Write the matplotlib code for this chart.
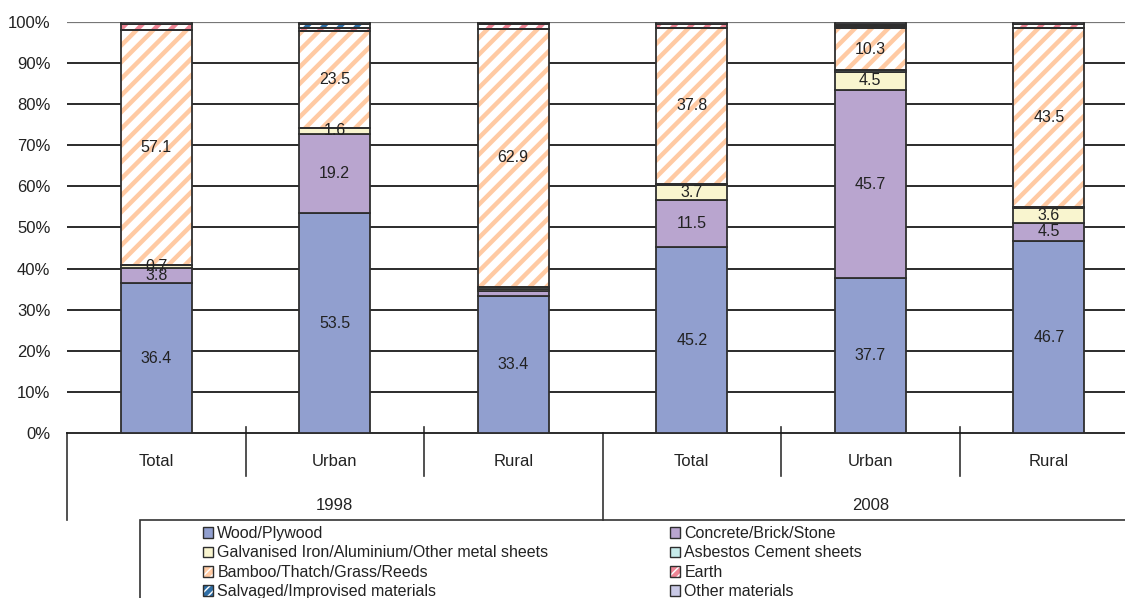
import matplotlib
matplotlib.use("Agg")
import matplotlib.pyplot as plt
from matplotlib.patches import Patch, Rectangle
from matplotlib.legend_handler import HandlerTuple
import numpy as np

plt.rcParams['font.family'] = ['Liberation Sans', 'DejaVu Sans']
plt.rcParams['hatch.linewidth'] = 3.2

categories = ['Total', 'Urban', 'Rural', 'Total', 'Urban', 'Rural']
years = ['1998', '2008']
series_names = ['Wood/Plywood', 'Concrete/Brick/Stone',
                'Galvanised Iron/Aluminium/Other metal sheets', 'Asbestos Cement sheets',
                'Bamboo/Thatch/Grass/Reeds', 'Earth',
                'Salvaged/Improvised materials', 'Other materials']
wood = [36.4, 53.5, 33.4, 45.2, 37.7, 46.7]
concrete = [3.8, 19.2, 1.1, 11.5, 45.7, 4.5]
galv = [0.7, 1.6, 0.6, 3.7, 4.5, 3.6]
asbestos = [0.0, 0.0, 0.4, 0.3, 0.3, 0.2]
bamboo = [57.1, 23.5, 62.9, 37.8, 10.3, 43.5]
earth = [1.5, 0.8, 1.2, 0.9, 0.5, 1.0]
salvaged = [0.0, 1.0, 0.1, 0.0, 0.4, 0.0]
other = [0.5, 0.4, 0.3, 0.6, 0.6, 0.5]
# which values carry a data label (series index -> category indices)
labelled = {0: [0, 1, 2, 3, 4, 5], 1: [0, 1, 3, 4, 5], 2: [0, 1, 3, 4, 5], 4: [0, 1, 2, 3, 4, 5]}

data = [wood, concrete, galv, asbestos, bamboo, earth, salvaged, other]
# (facecolor, hatchcolor)
styles = [('#919fcf', None), ('#b9a5cf', None), ('#f9f5cf', None), ('#c6ebea', None),
          ('white', '#ffcaa3'), ('white', '#ee8595'), ('white', '#2f6ea6'), ('#c9c9e6', None)]
edge = '#2e2e2e'
txt = '#222222'

W, H = 1125, 598
fig = plt.figure(figsize=(W / 100, H / 100), dpi=100)
ax = fig.add_axes([67 / W, 1 - 433 / H, (1138 - 67) / W, (433 - 22) / H])

x = np.arange(len(categories))
bw = 0.40
bottom = np.zeros(len(categories))
for i, (vals, (fc, hc)) in enumerate(zip(data, styles)):
    vals = np.array(vals)
    for j in range(len(categories)):
        if vals[j] <= 0:
            continue
        if hc is not None:
            ax.bar(x[j], vals[j], bw, bottom=bottom[j], color=fc, edgecolor=hc,
                   hatch='//', linewidth=0, zorder=3)
            ax.bar(x[j], vals[j], bw, bottom=bottom[j], fill=False, edgecolor=edge,
                   linewidth=1.3, zorder=4)
        else:
            ax.bar(x[j], vals[j], bw, bottom=bottom[j], color=fc, edgecolor=edge,
                   linewidth=1.3, zorder=4)
        if i in labelled and j in labelled[i]:
            ax.text(x[j], bottom[j] + vals[j] / 2, f'{vals[j]:.1f}', ha='center', va='center',
                    fontsize=11.5, color=txt, zorder=6)
    bottom += vals

ax.set_xlim(-0.5, 5.5)
ax.set_ylim(0, 100)
ax.set_yticks(np.arange(0, 101, 10))
ax.set_yticklabels([f'{v}%' for v in range(0, 101, 10)], fontsize=12, color=txt)
ax.tick_params(axis='y', length=0, pad=12)
ax.tick_params(axis='x', length=0, labelbottom=False)
for v in range(10, 100, 10):
    ax.axhline(v, color='#1a1a1a', linewidth=1.3, zorder=1)
ax.axhline(100, color='#777777', linewidth=1.6, zorder=1)
for s in ['top', 'right', 'left']:
    ax.spines[s].set_visible(False)
ax.spines['bottom'].set_color('#1a1a1a')
ax.spines['bottom'].set_linewidth(1.3)

tr = ax.get_xaxis_transform()
ah = (433 - 22)
def yf(py):
    return -(py - 433) / ah

# separators of the two-level category axis
ax.plot([-0.5, -0.5], [yf(433), yf(520)], transform=tr, color='#333333', lw=1.2, clip_on=False)
for xs in [0.5, 1.5, 3.5, 4.5]:
    ax.plot([xs, xs], [yf(427), yf(476)], transform=tr, color='#333333', lw=1.2, clip_on=False)
ax.plot([2.5, 2.5], [yf(433), yf(520)], transform=tr, color='#333333', lw=1.2, clip_on=False)

for j, c in enumerate(categories):
    ax.text(x[j], yf(461), c, transform=tr, ha='center', va='center', fontsize=12, color=txt)
for k, yr in enumerate(years):
    ax.text(1 + 3 * k, yf(505), yr, transform=tr, ha='center', va='center', fontsize=12, color=txt)

# legend
handles = []
for name, (fc, hc) in zip(series_names, styles):
    if hc is not None:
        handles.append((Patch(facecolor=fc, edgecolor=hc, hatch='////', linewidth=0),
                        Patch(fill=False, edgecolor=edge, linewidth=1.0)))
    else:
        handles.append(Patch(facecolor=fc, edgecolor=edge, linewidth=1.0))
order = [0, 2, 4, 6, 1, 3, 5, 7]
fig.patches.append(Rectangle((140 / W, -0.05), 1.0, 1 - 520 / H + 0.05, transform=fig.transFigure,
                             fill=False, edgecolor='#333333', linewidth=1.2))
leg = fig.legend([handles[i] for i in order], [series_names[i] for i in order],
                 ncol=2, loc='upper left', bbox_to_anchor=(203 / W, 1 - 526 / H),
                 frameon=False, fontsize=11.5, handlelength=0.65, handleheight=0.65,
                 handletextpad=0.25, labelspacing=0.28, columnspacing=7.6, borderpad=0,
                 borderaxespad=0, handler_map={tuple: HandlerTuple(ndivide=1, pad=0)})
for t in leg.get_texts():
    t.set_color(txt)

fig.savefig('out.png', dpi=100)
